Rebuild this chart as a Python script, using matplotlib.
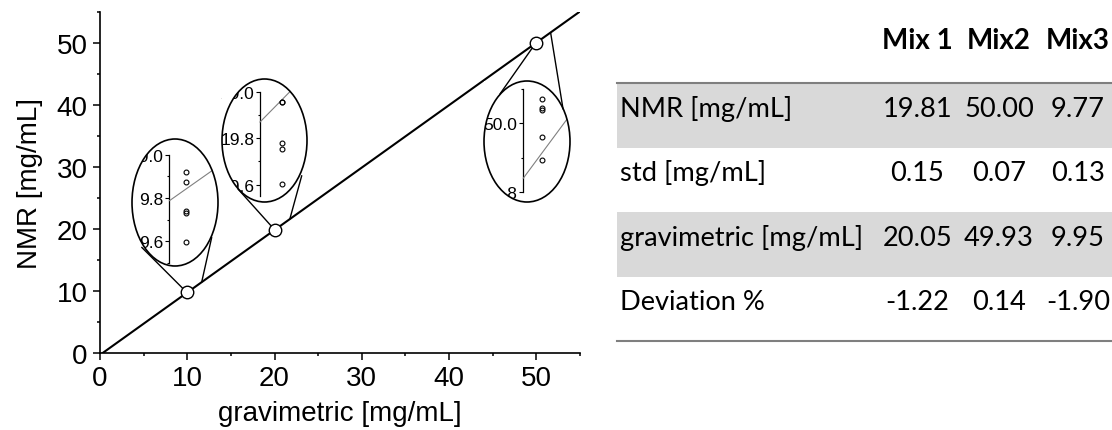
import numpy as np
import matplotlib
matplotlib.use("Agg")
import matplotlib.pyplot as plt
from matplotlib.patches import Ellipse, Rectangle, PathPatch, ConnectionPatch
from matplotlib.path import Path
from matplotlib.ticker import MultipleLocator, FormatStrFormatter

# summary table
mixes = ["Mix 1", "Mix2", "Mix3"]
row_names = ["NMR [mg/mL]", "std [mg/mL]", "gravimetric [mg/mL]", "Deviation %"]
nmr = [19.81, 50.00, 9.77]
std = [0.15, 0.07, 0.13]
gravimetric = [20.05, 49.93, 9.95]
deviation = [-1.22, 0.14, -1.90]

# single NMR replicates shown in the zoom ellipses
reps_mix1 = [19.956, 19.954, 19.779, 19.753, 19.603]
reps_mix2 = [50.070, 50.045, 50.039, 49.959, 49.894]
reps_mix3 = [9.919, 9.872, 9.739, 9.732, 9.595]

W, H = 1112, 431
plt.rcParams['font.family'] = ['Liberation Sans', 'DejaVu Sans']

fig = plt.figure(figsize=(W / 100, H / 100), dpi=100)


def px_box(x0, y0, x1, y1):
    # pixel box (top-left origin) -> figure fraction rect
    return [x0 / W, 1 - y1 / H, (x1 - x0) / W, (y1 - y0) / H]


# ---- table on the right ----
tax = fig.add_axes([0, 0, 1, 1])
tax.set_xlim(0, W)
tax.set_ylim(H, 0)
tax.axis('off')

row_top = [84, 148.5, 213, 277.5]
row_h = 64.5
col_x = [917.5, 999, 1078]
tfont = 'Lato'
tsize = 19.6

for i, top in enumerate(row_top):
    if i % 2 == 0:
        tax.add_patch(Rectangle((617, top), W - 617, row_h, fc='#d9d9d9', ec='none'))
tax.plot([617, W], [row_top[0], row_top[0]], color='#7f7f7f', lw=1.5)
tax.plot([617, W], [row_top[-1] + row_h, row_top[-1] + row_h], color='#7f7f7f', lw=1.5)

for j, m in enumerate(mixes):
    tax.text(col_x[j], 49, m, ha='center', va='baseline', fontsize=tsize + 0.4,
             family=tfont, fontweight='bold')

table_rows = [nmr, std, gravimetric, deviation]
for i, (name, vals) in enumerate(zip(row_names, table_rows)):
    yb = row_top[i] + 33
    tax.text(620, yb, name, ha='left', va='baseline', fontsize=tsize, family=tfont)
    for j, v in enumerate(vals):
        tax.text(col_x[j], yb, f"{v:.2f}", ha='center', va='baseline',
                 fontsize=tsize, family=tfont)

# ---- main calibration plot ----
ax = fig.add_axes(px_box(100, 13, 580, 354))
slope, icpt = np.polyfit(gravimetric, nmr, 1)
xs = np.array([0, 55])
ax.plot(xs, slope * xs + icpt, color='black', lw=1.5, zorder=2)
ax.plot(gravimetric, nmr, 'o', ms=9, mfc='white', mec='black', mew=1, zorder=3)

ax.set_xlim(0, 55)
ax.set_ylim(0, 55)
for s in ['top', 'right']:
    ax.spines[s].set_visible(False)
for s in ['left', 'bottom']:
    ax.spines[s].set_linewidth(1.2)
ax.xaxis.set_major_locator(MultipleLocator(10))
ax.yaxis.set_major_locator(MultipleLocator(10))
ax.xaxis.set_minor_locator(MultipleLocator(5))
ax.yaxis.set_minor_locator(MultipleLocator(5))
ax.tick_params(which='major', direction='out', length=5, width=1.1, labelsize=20)
ax.tick_params(axis='x', which='major', pad=4)
ax.tick_params(axis='y', which='major', pad=4)
ax.tick_params(which='minor', direction='out', length=2.5, width=1.1)
ax.set_xlabel("gravimetric [mg/mL]", fontsize=20, labelpad=6)
ax.set_ylabel("NMR [mg/mL]", fontsize=20, labelpad=10)

# ---- zoom ellipses ----
insets = [
    dict(k=2, reps=reps_mix3, box=(132, 140, 218, 267), ylim=(9.486, 10.073),
         bounds=(9.5, 10.0), sx=0.436, px=0.624, guide=(9.788, 9.946),
         conn=[(0.113, 0.147), (0.927, 0.226)], mask_left=-0.3),
    dict(k=0, reps=reps_mix1, box=(222, 80, 307, 203), ylim=(19.525, 20.054),
         bounds=(19.55, 20.0), sx=0.447, px=0.706, guide=(19.869, 20.074),
         conn=[(0.188, 0.106), (0.938, 0.214)], mask_left=0.0),
    dict(k=1, reps=reps_mix2, box=(484, 82, 570, 203), ylim=(49.771, 50.122),
         bounds=(49.8, 50.1), sx=0.457, px=0.67, guide=(49.84, 50.023),
         conn=[(0.186, 0.893), (0.919, 0.769)], mask_left=0.0),
]

t = np.linspace(np.pi / 2, 3 * np.pi / 2, 120)
arc = np.column_stack([0.5 + 0.5 * np.cos(t), 0.5 + 0.5 * np.sin(t)])

for ins in insets:
    iax = fig.add_axes(px_box(*ins['box']))
    iax.set_facecolor('none')
    iax.set_xlim(0, 1)
    iax.set_ylim(*ins['ylim'])
    for s in ['top', 'right', 'bottom']:
        iax.spines[s].set_visible(False)
    iax.spines['left'].set_position(('axes', ins['sx']))
    iax.spines['left'].set_bounds(*ins['bounds'])
    iax.spines['left'].set_linewidth(0.9)
    iax.xaxis.set_visible(False)
    iax.yaxis.set_major_locator(MultipleLocator(0.2))
    iax.yaxis.set_minor_locator(MultipleLocator(0.1))
    iax.yaxis.set_major_formatter(FormatStrFormatter('%.1f'))
    iax.tick_params(axis='y', which='major', length=3, width=0.8, pad=1.2, labelsize=12.5)
    iax.tick_params(axis='y', which='minor', length=1.5, width=0.8)

    bg = Ellipse((0.5, 0.5), 1, 1, transform=iax.transAxes, fc='white', ec='none', zorder=0)
    iax.add_patch(bg)
    # hide tick label parts that stick out of the ellipse
    xl = ins['mask_left']
    mask_verts = np.vstack([arc, [[0, 0], [xl, 0], [xl, 1], [0.5, 1]]])
    iax.add_patch(PathPatch(Path(mask_verts), transform=iax.transAxes, fc='white',
                            ec='none', zorder=2.7, clip_on=False))
    rim = Ellipse((0.5, 0.5), 1, 1, transform=iax.transAxes, fc='none', ec='black',
                  lw=1.2, zorder=4, clip_on=False)
    iax.add_patch(rim)

    g = iax.plot([ins['sx'], 1], ins['guide'], color='#808080', lw=0.8, zorder=3)[0]
    g.set_clip_path(bg)
    iax.plot([ins['px']] * len(ins['reps']), ins['reps'], 'o', ms=3.5, mfc='none',
             mec='black', mew=0.8, zorder=3, clip_on=False)

    k = ins['k']
    (ax1, ay1), (ax2, ay2) = ins['conn']
    xp, yp = gravimetric[k], nmr[k]
    c1 = ConnectionPatch((ax1, ay1), (xp, yp), coordsA=iax.transAxes, coordsB=ax.transData,
                         color='black', lw=1, shrinkB=4.5)
    xr = xp + 1.7
    c2 = ConnectionPatch((ax2, ay2), (xr, slope * xr + icpt), coordsA=iax.transAxes,
                         coordsB=ax.transData, color='black', lw=1)
    fig.add_artist(c1)
    fig.add_artist(c2)

fig.savefig("out.png", dpi=100)
